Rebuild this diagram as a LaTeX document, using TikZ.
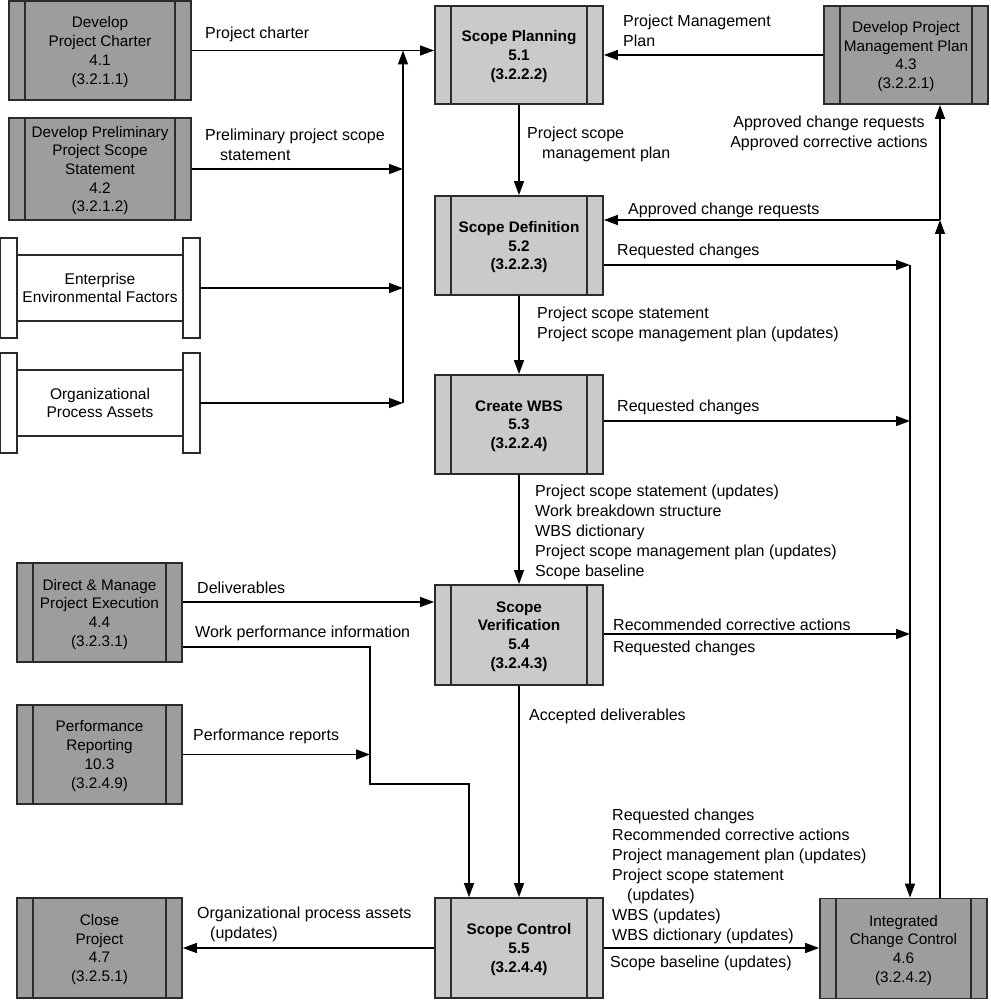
\documentclass[tikz,border=0pt]{standalone}
\usepackage{fontspec}
\setmainfont{Liberation Sans}
\usetikzlibrary{arrows.meta}
\definecolor{lightfill}{HTML}{CACACA}
\definecolor{darkfill}{HTML}{9D9D9D}
\definecolor{edgegray}{HTML}{2B2B2B}

\begin{document}
\begin{tikzpicture}[x=1pt, y=-1pt,
	arr/.style={line width=1.4pt, -{Triangle[length=14pt,width=10pt]}},
	lbl/.style={inner sep=0pt, align=left, anchor=west, font=\fontsize{16}{20}\selectfont},
	edge/.style={draw=edgegray, line width=1.8pt},
	proc/.style={edge, minimum width=168pt, minimum height=99pt, inner sep=0pt, align=center,
		font=\fontsize{15.3}{18.7}\selectfont, text depth=-8pt,
		path picture={
			\draw[edgegray, line width=1.6pt] ([xshift=16pt]path picture bounding box.north west) -- ([xshift=16pt]path picture bounding box.south west);
			\draw[edgegray, line width=1.6pt] ([xshift=-16pt]path picture bounding box.north east) -- ([xshift=-16pt]path picture bounding box.south east);
		}},
	scopeproc/.style={proc, fill=lightfill, font=\fontsize{15.3}{18.7}\selectfont\bfseries},
	otherproc/.style={proc, fill=darkfill},
	envbox/.style={minimum width=200pt, minimum height=100pt, inner sep=0pt, align=center,
		font=\fontsize{15.5}{18.7}\selectfont}]
	\fill[white] (0,0) rectangle (990,1000);
	\useasboundingbox (0,0) rectangle (990,1000);
	
	%Eingaenge links
	\node[otherproc, minimum width=182pt, text depth=-2pt] (charter) at (100,50.5) {Develop\\Project Charter\\4.1\\(3.2.1.1)};
	\node[otherproc, minimum width=182pt, minimum height=102pt, text depth=-4pt] (prelim) at (100,169) {Develop Preliminary\\Project Scope\\Statement\\4.2\\(3.2.1.2)};
	\node[envbox] (eef) at (100,288) {Enterprise\\Environmental Factors};
	\node[envbox] (opa) at (100,403) {Organizational\\Process Assets};
	\foreach \nd in {eef,opa} {
		\draw[edge, fill=white] (\nd.north west) rectangle ++(17,100);
		\draw[edge, fill=white] (\nd.north east) rectangle ++(-17,100);
		\draw[edge] ([shift={(17,17)}]\nd.north west) -- ([shift={(-17,17)}]\nd.north east);
		\draw[edge] ([shift={(17,-17)}]\nd.south west) -- ([shift={(-17,-17)}]\nd.south east);
	}
	\node[otherproc, minimum width=165pt] (direct) at (99.5,612.5) {Direct \& Manage\\Project Execution\\4.4\\(3.2.3.1)};
	\node[otherproc, minimum width=165pt] (perf) at (99.5,754.5) {Performance\\Reporting\\10.3\\(3.2.4.9)};
	\node[otherproc, minimum width=165pt, minimum height=100pt, text depth=-10pt] (close) at (99.5,948) {Close\\Project\\4.7\\(3.2.5.1)};
	
	%Scope-Prozesse
	\node[scopeproc, minimum height=98pt, text depth=-10pt] (planning) at (519,55) {Scope Planning\\5.1\\(3.2.2.2)};
	\node[scopeproc] (definition) at (519,245.5) {Scope Definition\\5.2\\(3.2.2.3)};
	\node[scopeproc] (wbs) at (519,424.5) {Create WBS\\5.3\\(3.2.2.4)};
	\node[scopeproc, minimum height=100pt, text depth=-6pt] (verif) at (519,635) {Scope\\Verification\\5.4\\(3.2.4.3)};
	\node[scopeproc, minimum height=100pt, text depth=-10pt] (control) at (519,948) {Scope Control\\5.5\\(3.2.4.4)};
	
	%rechts
	\node[otherproc, minimum width=164pt, minimum height=98pt, text depth=-12pt] (pmplan) at (906,55) {Develop Project\\Management Plan\\4.3\\(3.2.2.1)};
	\node[otherproc, minimum width=167pt, minimum height=100pt] (icc) at (903.5,948.5) {Integrated\\Change Control\\4.6\\(3.2.4.2)};
	
	\coordinate (bus) at (403,0);
	\coordinate (acr) at (940,220);
	\coordinate (rc1) at (910,265);
	\coordinate (rc2) at (910,421);
	\coordinate (rc3) at (910,634);
	\coordinate (dlv) at (300,602);
	\coordinate (wpi) at (300,647);
	\coordinate (wpj) at (370,784);
	\coordinate (wpk) at (469,784);
	
	%Verbindungen
	\draw[arr] (charter.east) -- (charter.east -| planning.west);
	\draw[arr] (prelim.east) -- (prelim.east -| bus);
	\draw[arr] (eef.east) -- (eef.east -| bus);
	\draw[arr] (opa.east) -- (opa.east -| bus);
	\draw[arr] (opa.east -| bus) -- (charter.east -| bus);
	\draw[arr] (pmplan.west) -- (pmplan.west -| planning.east);
	\foreach \a/\b in {planning/definition, definition/wbs, wbs/verif, verif/control} {
		\draw[arr] (\a.south) -- (\b.north);
	}
	\draw[arr] (icc.north -| acr) -- (acr);
	\draw[arr] (acr) -- (pmplan.south -| acr);
	\draw[arr] (acr) -- (acr -| definition.east);
	\draw[arr] (rc1) -- (rc1 |- icc.north);
	\draw[arr] (rc1 -| definition.east) -- (rc1);
	\draw[arr] (rc2 -| wbs.east) -- (rc2);
	\draw[arr] (rc3 -| verif.east) -- (rc3);
	\draw[arr] (direct.east |- dlv) -- (verif.west |- dlv);
	\draw[arr] (direct.east |- wpi) -| (wpj) -- (wpk) -- (wpk |- control.north);
	\draw[arr] (perf.east) -- (perf.east -| wpj);
	\draw[arr] (control.west) -- (close.east);
	\draw[arr] (control.east) -- (control.east -| icc.west);
	
	%Beschriftungen
	\node[lbl] (lblcharter) at (205,34) {Project charter};
	\node[lbl] (lblprelim) at (205,145) {Preliminary project scope\\\hspace*{15pt}statement};
	\node[lbl] (lblpmplan) at (623,30.5) {Project Management\\Plan};
	\node[lbl] (lblscopeplan) at (527,144) {Project scope\\\hspace*{15pt}management plan};
	\node[lbl, anchor=center, align=center] (lblapproved) at (829,133.5) {Approved change requests\\Approved corrective actions};
	\node[lbl] (lblacr) at (628,210.5) {Approved change requests};
	\node[lbl] (lblrc1) at (617,251.5) {Requested changes};
	\node[lbl] (lbldef) at (537,324.5) {Project scope statement\\Project scope management plan (updates)};
	\node[lbl] (lblrc2) at (617,407.5) {Requested changes};
	\node[lbl] (lblwbs) at (535,532.5) {Project scope statement (updates)\\Work breakdown structure\\WBS dictionary\\Project scope management plan (updates)\\Scope baseline};
	\node[lbl] (lblrca) at (613,624.5) {Recommended corrective actions};
	\node[lbl] (lblrc3) at (613,648.5) {Requested changes};
	\node[lbl] (lblaccepted) at (529,716.5) {Accepted deliverables};
	\node[lbl] (lbldlv) at (197,587.5) {Deliverables};
	\node[lbl] (lblwpi) at (195,633.5) {Work performance information};
	\node[lbl] (lblperf) at (193,736.5) {Performance reports};
	\node[lbl] (lblclose) at (197,924) {Organizational process assets\\\hspace*{13pt}(updates)};
	\node[lbl] (lblcontrol) at (612,876.5) {Requested changes\\Recommended corrective actions\\Project management plan (updates)\\Project scope statement\\\hspace*{15pt}(updates)\\WBS (updates)\\WBS dictionary (updates)};
	\node[lbl] (lblbaseline) at (610,963.5) {Scope baseline (updates)};
\end{tikzpicture}
\end{document}
